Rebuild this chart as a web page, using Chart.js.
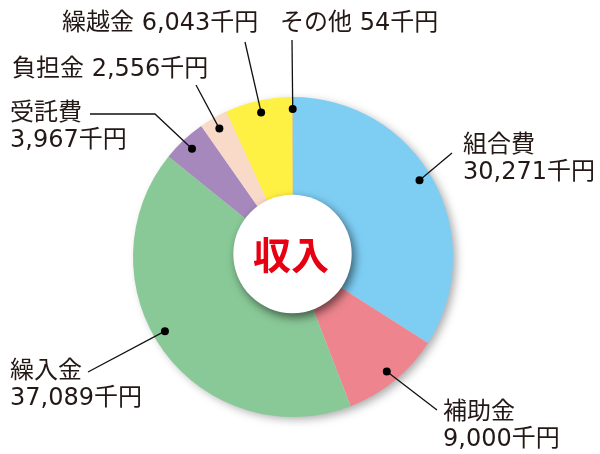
<!DOCTYPE html>
<html>
<head>
<meta charset="utf-8">
<script src="https://cdn.jsdelivr.net/npm/chart.js@4.4.0/dist/chart.umd.min.js"></script>
<style>
  html, body { margin: 0; padding: 0; background: #fff; }
  #wrap { width: 600px; height: 454px; position: relative; }
</style>
</head>
<body>
<div id="wrap"><canvas id="chart-income"></canvas></div>
<script>
// 収入の内訳（千円）
const labels = ['組合費', '補助金', '繰入金', '受託費', '負担金', '繰越金', 'その他'];
const values = [30271, 9000, 37089, 3967, 2556, 6043, 54];
const colors = ['#7ecef4', '#ee858e', '#89c997', '#a688bd', '#f9d9c8', '#fff143', '#c8b98c'];
const unit = '千円';
const centerTitle = '収入';

// label placement: text start, leader end, optional elbow, small nudge of the dot angle (deg)
const placement = [
  { x: 463, y: 146, two: true,  end: [452, 153], nudge: -2.5 },
  { x: 443, y: 413, two: true,  end: [437, 410], nudge: 0 },
  { x: 10,  y: 372, two: true,  end: [88, 372],  nudge: 6 },
  { x: 10,  y: 114, two: true,  end: [90, 114],  elbow: [155, 114], nudge: 0 },
  { x: 12,  y: 70,  two: false, end: [196, 85],  nudge: 0 },
  { x: 62,  y: 24,  two: false, end: [245, 42],  nudge: 0 },
  { x: 280, y: 24,  two: false, end: [292, 40],  nudge: 0 },
];

const fmt = v => v.toLocaleString('en-US') + unit;
const TXT = '#231815';
const FONT = '"DejaVu Sans", "Noto Sans CJK JP", sans-serif';

const decor = {
  id: 'decor',
  beforeDatasetsDraw(chart) {
    // soft shadow under the whole pie
    const a = chart.getDatasetMeta(0).data[0];
    const ctx = chart.ctx;
    ctx.save();
    ctx.shadowColor = 'rgba(0,0,0,0.35)';
    ctx.shadowBlur = 10;
    ctx.shadowOffsetX = 4;
    ctx.shadowOffsetY = 3;
    ctx.beginPath();
    ctx.arc(a.x, a.y, a.outerRadius - 1, 0, Math.PI * 2);
    ctx.fillStyle = '#ddd';
    ctx.fill();
    ctx.restore();
  },
  afterDatasetsDraw(chart) {
    const ctx = chart.ctx;
    const arcs = chart.getDatasetMeta(0).data;
    const cx = arcs[0].x, cy = arcs[0].y, R = arcs[0].outerRadius;

    // white centre disc with drop shadow
    ctx.save();
    ctx.shadowColor = 'rgba(0,0,0,0.55)';
    ctx.shadowBlur = 10;
    ctx.shadowOffsetX = 3;
    ctx.shadowOffsetY = 4;
    ctx.beginPath();
    ctx.arc(cx - 0.5, cy - 3, R * 0.37, 0, Math.PI * 2);
    ctx.fillStyle = '#fff';
    ctx.fill();
    ctx.restore();

    ctx.save();
    ctx.fillStyle = '#e60012';
    ctx.font = 'bold 38px "Noto Sans CJK JP", sans-serif';
    ctx.textAlign = 'center';
    ctx.textBaseline = 'middle';
    ctx.fillText(centerTitle, cx - 2, cy - 2);
    ctx.restore();

    // leader lines, dots and labels
    ctx.save();
    ctx.strokeStyle = '#111';
    ctx.lineWidth = 1.3;
    arcs.forEach((arc, i) => {
      const p = placement[i];
      const mid = (arc.startAngle + arc.endAngle) / 2 + p.nudge * Math.PI / 180;
      const dx = cx + Math.cos(mid) * R * 0.925;
      const dy = cy + Math.sin(mid) * R * 0.925;
      ctx.beginPath();
      ctx.moveTo(dx, dy);
      if (p.elbow) ctx.lineTo(p.elbow[0], p.elbow[1]);
      ctx.lineTo(p.end[0], p.end[1]);
      ctx.stroke();
      ctx.beginPath();
      ctx.arc(dx, dy, 4, 0, Math.PI * 2);
      ctx.fillStyle = '#000';
      ctx.fill();

      ctx.fillStyle = TXT;
      ctx.font = '24px ' + FONT;
      ctx.textAlign = 'left';
      ctx.textBaseline = 'middle';
      if (p.two) {
        ctx.fillText(labels[i], p.x, p.y);
        ctx.fillText(fmt(values[i]), p.x, p.y + 27);
      } else {
        ctx.fillText(labels[i] + ' ' + fmt(values[i]), p.x, p.y);
      }
    });
    ctx.restore();
  }
};

new Chart(document.getElementById('chart-income'), {
  type: 'pie',
  data: {
    labels: labels,
    datasets: [{
      data: values,
      backgroundColor: colors,
      borderWidth: 0,
      hoverOffset: 0,
      offset: 0
    }]
  },
  options: {
    responsive: true,
    maintainAspectRatio: false,
    animation: false,
    devicePixelRatio: 1,
    events: [],
    layout: { padding: { left: 133, right: 147, top: 97, bottom: 37 } },
    plugins: { legend: { display: false }, tooltip: { enabled: false } }
  },
  plugins: [decor]
});
</script>
</body>
</html>
